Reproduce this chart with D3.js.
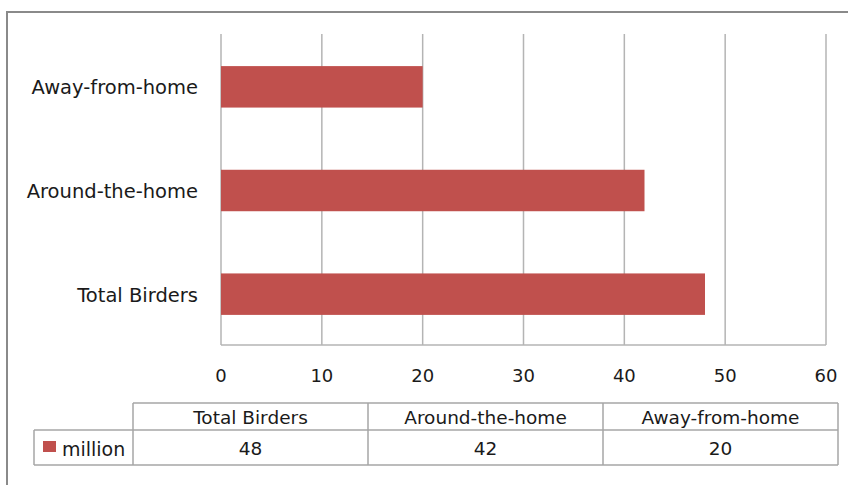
<!DOCTYPE html>
<html>
<head>
<meta charset="utf-8">
<script src="https://cdn.jsdelivr.net/npm/d3@7"></script>
<style>
  body { margin: 0; background: #fff; }
  svg { display: block; font-family: "DejaVu Sans", "Open Sans", sans-serif; }
</style>
</head>
<body>
<div id="chart"></div>
<script>
// data
const categories = ["Total Birders", "Around-the-home", "Away-from-home"];
const values = [48, 42, 20];
const seriesName = "million";
const xTicks = [0, 10, 20, 30, 40, 50, 60];

const W = 848, H = 485;
const plot = { left: 221, right: 826, top: 34, bottom: 345 };
const barColor = "#C0504D";
const textColor = "#1a1a1a";

const svg = d3.select("#chart").append("svg")
    .attr("width", W)
    .attr("height", H);

// outer frame
svg.append("rect")
    .attr("x", 7).attr("y", 12)
    .attr("width", W + 10).attr("height", H + 10)
    .attr("fill", "none")
    .attr("stroke", "#8a8a8a")
    .attr("stroke-width", 2);

const x = d3.scaleLinear()
    .domain([0, 60])
    .range([plot.left, plot.right]);

// reversed so Total Birders sits at the bottom
const y = d3.scaleBand()
    .domain(categories.slice().reverse())
    .range([plot.top, plot.bottom])
    .paddingInner(0.6)
    .paddingOuter(0.3);

// gridlines
svg.append("g")
    .selectAll("line")
    .data(xTicks)
    .join("line")
    .attr("x1", d => x(d)).attr("x2", d => x(d))
    .attr("y1", plot.top).attr("y2", plot.bottom)
    .attr("stroke", "#b4b4b4")
    .attr("stroke-width", 1.5);

// bottom axis line
svg.append("line")
    .attr("x1", plot.left).attr("x2", plot.right)
    .attr("y1", plot.bottom).attr("y2", plot.bottom)
    .attr("stroke", "#b4b4b4")
    .attr("stroke-width", 1.5);

// bars
svg.append("g")
    .selectAll("rect")
    .data(categories.map((c, i) => ({ c, v: values[i] })))
    .join("rect")
    .attr("x", x(0))
    .attr("y", d => y(d.c) + 1)
    .attr("width", d => x(d.v) - x(0))
    .attr("height", y.bandwidth())
    .attr("fill", barColor);

// category labels
svg.append("g")
    .selectAll("text")
    .data(categories)
    .join("text")
    .attr("x", 198)
    .attr("y", d => y(d) + y.bandwidth() / 2 + 2)
    .attr("text-anchor", "end")
    .attr("dominant-baseline", "central")
    .style("font-size", "19.5px")
    .attr("fill", textColor)
    .text(d => d);

// tick labels
svg.append("g")
    .selectAll("text")
    .data(xTicks)
    .join("text")
    .attr("x", d => x(d))
    .attr("y", 375)
    .attr("text-anchor", "middle")
    .attr("dominant-baseline", "central")
    .style("font-size", "18px")
    .attr("fill", textColor)
    .text(d => d);

// data table
const tbl = { left: 133, right: 838, legendLeft: 34, top: 403, mid: 430, bottom: 465 };
const col = d3.scaleBand()
    .domain(categories)
    .range([tbl.left, tbl.right]);

const tg = svg.append("g")
    .attr("stroke", "#a6a6a6")
    .attr("stroke-width", 1.5);

tg.append("line").attr("x1", tbl.left).attr("x2", tbl.right).attr("y1", tbl.top).attr("y2", tbl.top);
tg.append("line").attr("x1", tbl.legendLeft).attr("x2", tbl.right).attr("y1", tbl.mid).attr("y2", tbl.mid);
tg.append("line").attr("x1", tbl.legendLeft).attr("x2", tbl.right).attr("y1", tbl.bottom).attr("y2", tbl.bottom);
tg.append("line").attr("x1", tbl.legendLeft).attr("x2", tbl.legendLeft).attr("y1", tbl.mid).attr("y2", tbl.bottom);
tg.selectAll(".v")
    .data(categories)
    .join("line")
    .attr("x1", d => col(d)).attr("x2", d => col(d))
    .attr("y1", tbl.top).attr("y2", tbl.bottom);
tg.append("line").attr("x1", tbl.right).attr("x2", tbl.right).attr("y1", tbl.top).attr("y2", tbl.bottom);

svg.append("g")
    .selectAll("text")
    .data(categories)
    .join("text")
    .attr("x", d => col(d) + col.bandwidth() / 2)
    .attr("y", (tbl.top + tbl.mid) / 2 + 1)
    .attr("text-anchor", "middle")
    .attr("dominant-baseline", "central")
    .style("font-size", "18.5px")
    .attr("fill", textColor)
    .text(d => d);

svg.append("g")
    .selectAll("text")
    .data(values)
    .join("text")
    .attr("x", (d, i) => col(categories[i]) + col.bandwidth() / 2)
    .attr("y", (tbl.mid + tbl.bottom) / 2 + 1)
    .attr("text-anchor", "middle")
    .attr("dominant-baseline", "central")
    .style("font-size", "18.5px")
    .attr("fill", textColor)
    .text(d => d);

// legend key in table
svg.append("rect")
    .attr("x", 43).attr("y", 441)
    .attr("width", 13).attr("height", 11)
    .attr("fill", barColor);

svg.append("text")
    .attr("x", 62)
    .attr("y", (tbl.mid + tbl.bottom) / 2 + 1)
    .attr("dominant-baseline", "central")
    .style("font-size", "19px")
    .attr("fill", textColor)
    .text(seriesName);
</script>
</body>
</html>
